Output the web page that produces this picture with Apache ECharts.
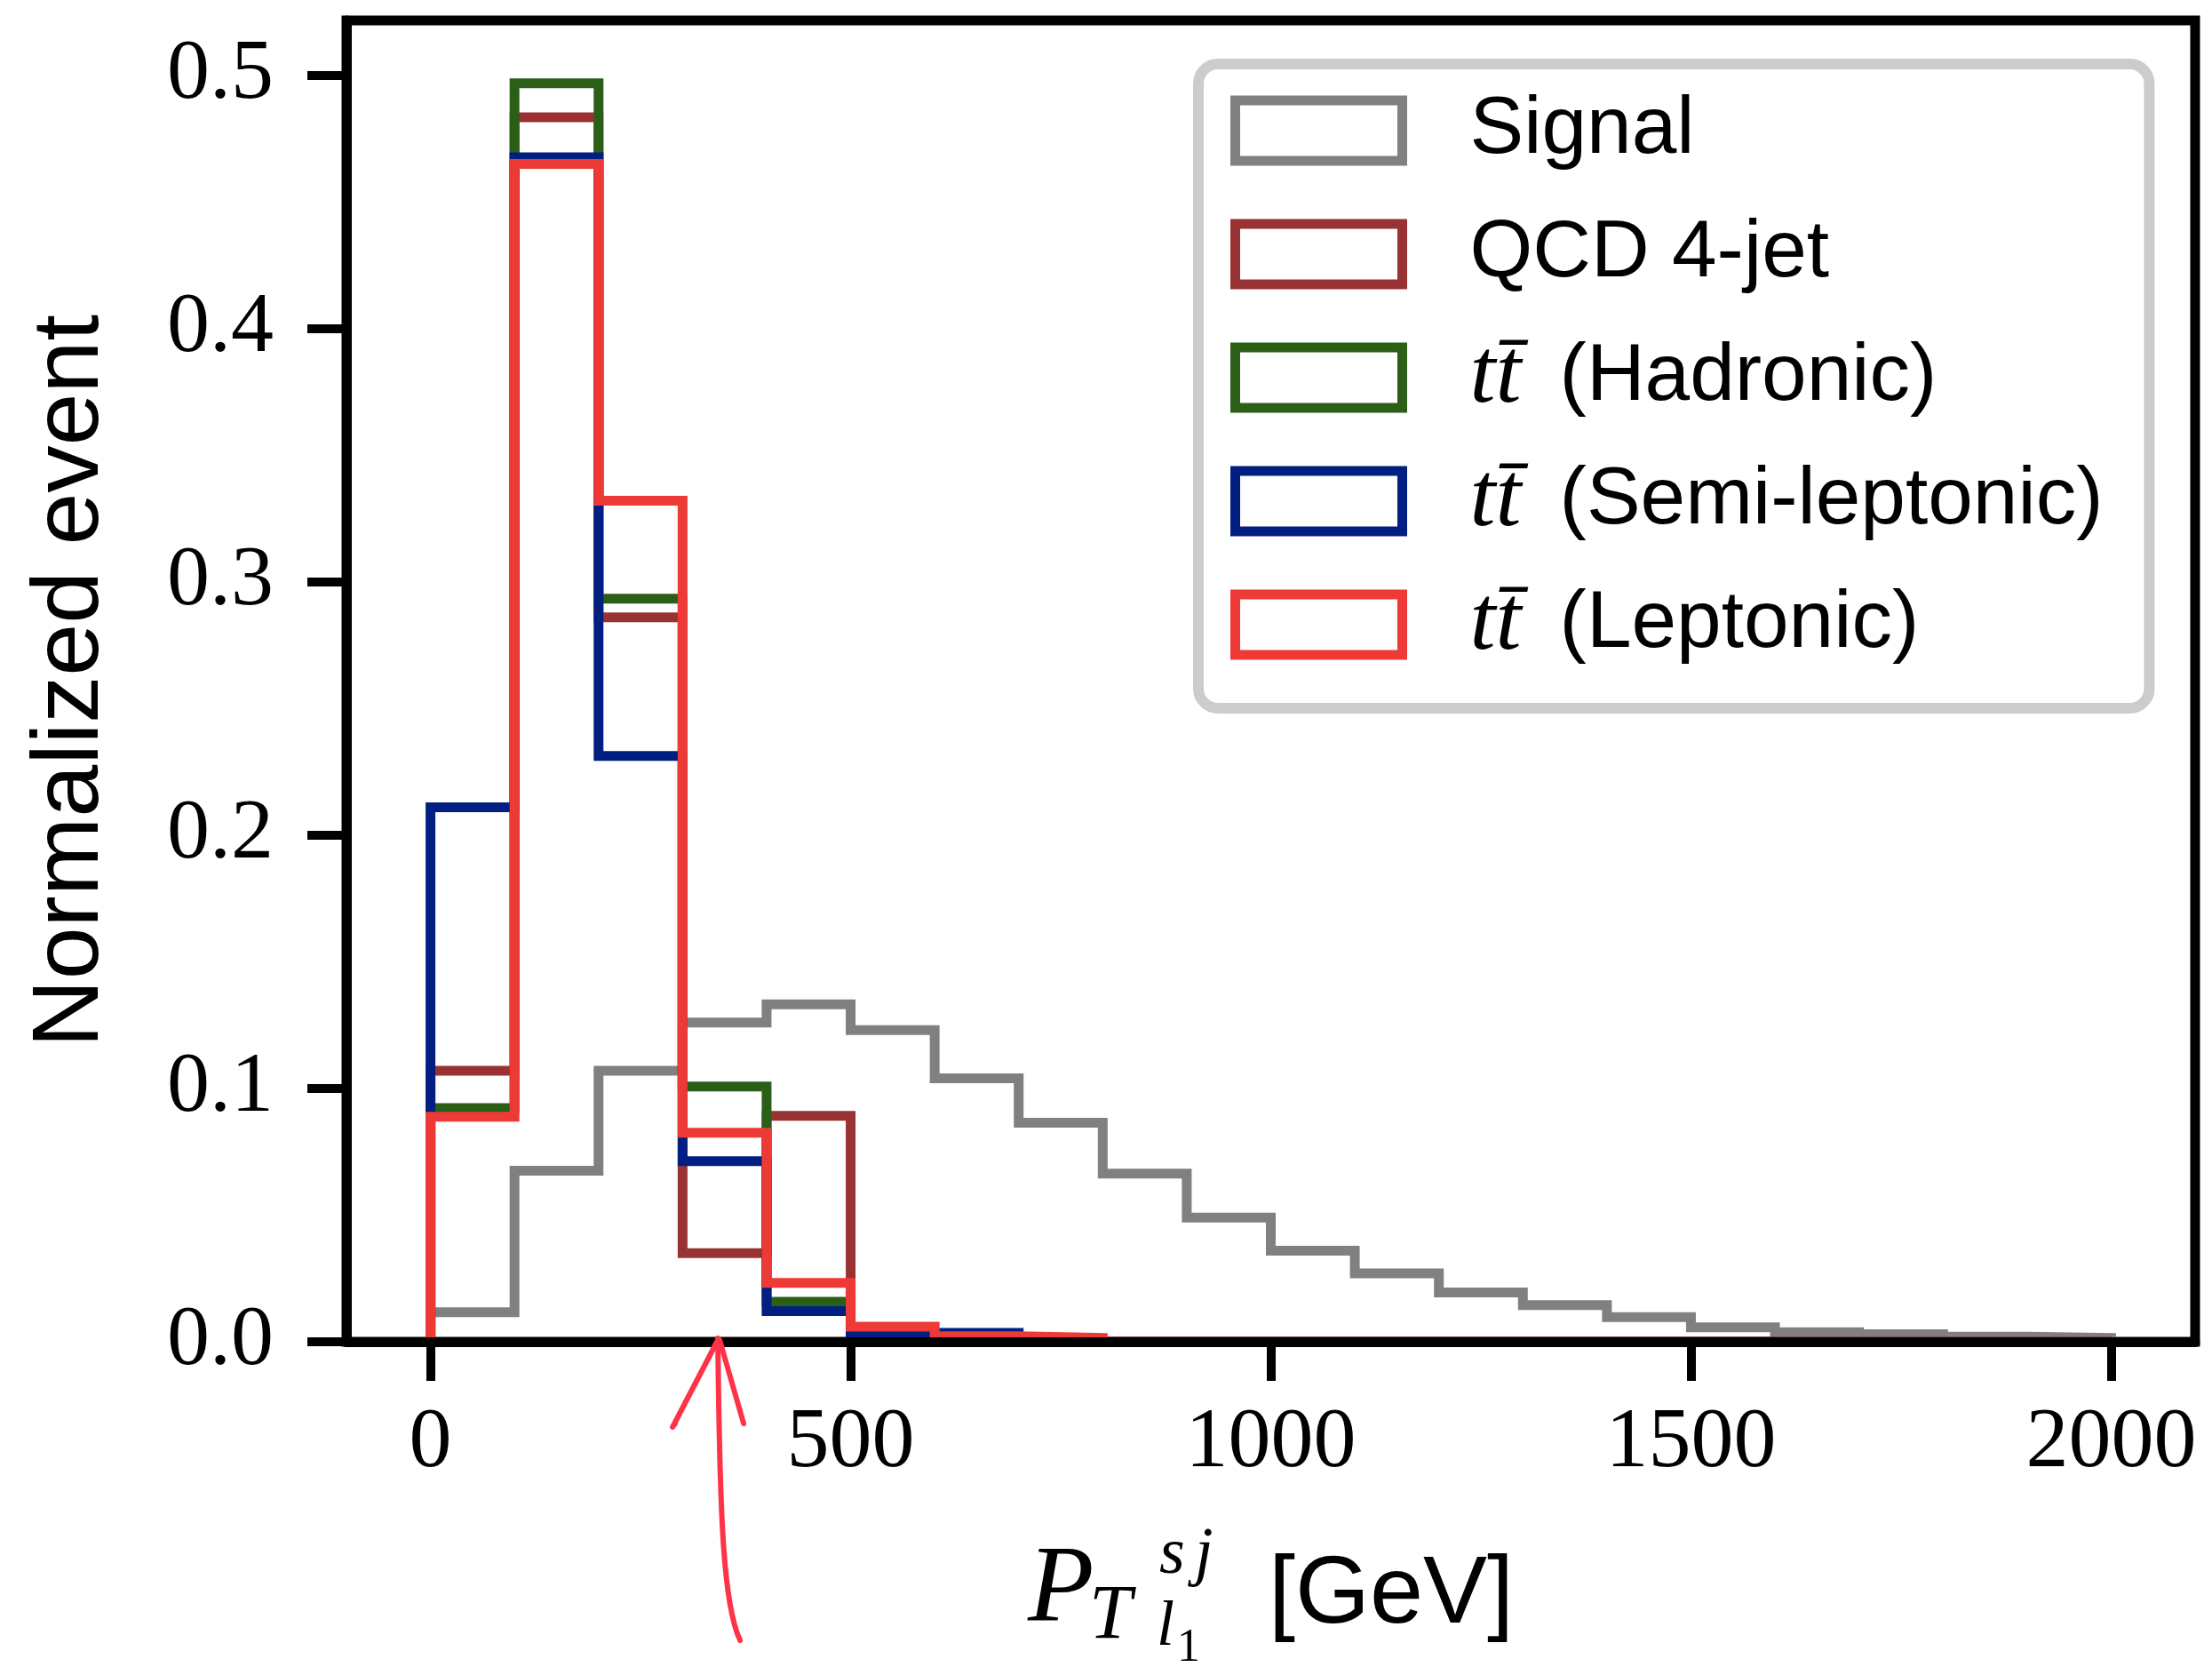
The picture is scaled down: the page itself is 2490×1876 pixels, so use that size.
<!DOCTYPE html>
<html>
<head>
<meta charset="utf-8">
<script src="https://cdn.jsdelivr.net/npm/echarts@6/dist/echarts.min.js"></script>
<style>
html,body{margin:0;padding:0;background:#fff;}
#chart{width:2490px;height:1876px;}
</style>
</head>
<body>
<div id="chart"></div>
<script>
// ---- data ----
const binEdges = [0,100,200,300,400,500,600,700,800,900,1000,1100,1200,1300,1400,1500,1600,1700,1800,1900,2000];
const signal     = [0.0117,0.0675,0.107,0.126,0.1332,0.123,0.104,0.0865,0.0664,0.049,0.036,0.027,0.0195,0.0145,0.0097,0.0057,0.0038,0.0030,0.0020,0.0015];
const qcd4jet    = [0.107,0.4834,0.286,0.035,0.0892,0,0,0,0,0,0,0,0,0,0,0,0,0,0,0];
const ttHadronic = [0.0923,0.4968,0.2934,0.1008,0.0158,0.0010,0,0,0,0,0,0,0,0,0,0,0,0,0,0];
const ttSemiLep  = [0.211,0.4676,0.2313,0.0713,0.0121,0.0027,0.0035,0,0,0,0,0,0,0,0,0,0,0,0,0];
const ttLeptonic = [0.0888,0.465,0.332,0.0825,0.0232,0.0060,0.0022,0.0015,0,0,0,0,0,0,0,0,0,0,0,0];
const seriesNames = ['Signal','QCD 4-jet','tt\u0304 (Hadronic)','tt\u0304 (Semi-leptonic)','tt\u0304 (Leptonic)'];
const xTicks = [0,500,1000,1500,2000];
const xTickLabels = ['0','500','1000','1500','2000'];
const yTicks = [0,0.1,0.2,0.3,0.4,0.5];
const yTickLabels = ['0.0','0.1','0.2','0.3','0.4','0.5'];
const arrowTarget = 342; // GeV, hand-drawn annotation arrow

// ---- styles ----
const colors = ['#808080','#993333','#2b5e17','#001f80','#ee3a36'];
const allValues = [signal,qcd4jet,ttHadronic,ttSemiLep,ttLeptonic];

function stepPoints(edges, vals){
  const pts = [[edges[0],0]];
  for(let i=0;i<vals.length;i++){
    pts.push([edges[i],vals[i]]);
    pts.push([edges[i+1],vals[i]]);
  }
  pts.push([edges[edges.length-1],0]);
  return pts;
}
const yMax = Math.max(...allValues.map(a=>Math.max(...a)))*1.05;

const chart = echarts.init(document.getElementById('chart'), null, {renderer:'canvas'});

const series = allValues.map((vals,i)=>({
  name: seriesNames[i],
  type:'line',
  data: stepPoints(binEdges, vals),
  showSymbol:false,
  symbol:'none',
  clip:false,
  z: 2+i,
  lineStyle:{color:colors[i], width:11, join:'miter', cap:'butt'},
  itemStyle:{color:colors[i]},
  emphasis:{disabled:true}
}));

const option = {
  animation:false,
  backgroundColor:'#ffffff',
  grid:{left:390, right:19, top:23, bottom:366, show:true, borderColor:'#000', borderWidth:11, backgroundColor:'rgba(0,0,0,0)'},
  legend:{
    orient:'vertical', left:1349, top:72,
    padding:[23,52,42,36],
    itemWidth:188, itemHeight:68, itemGap:35,
    icon:'rect',
    backgroundColor:'#ffffff', borderColor:'#cccccc', borderWidth:12, borderRadius:22,
    selectedMode:false,
    data: series.map((s,i)=>({name:s.name, itemStyle:{color:'rgba(255,255,255,0)', borderColor:colors[i], borderWidth:11}})),
    formatter: function(name){
      if(name.indexOf('tt')===0){
        return '{m|'+name.slice(0,3)+'}{s2|'+name.slice(3)+'}';
      }
      return '{m|\u200b}{s|'+name+'}';
    },
    textStyle:{
      color:'#000', fontFamily:'Liberation Sans', fontSize:91, lineHeight:68, padding:[0,0,0,71],
      rich:{
        m:{fontFamily:'Liberation Serif', fontStyle:'italic', fontSize:104, lineHeight:68, color:'#000'},
        s:{fontFamily:'Liberation Sans', fontSize:91, lineHeight:68, color:'#000'},
        s2:{fontFamily:'Liberation Sans', fontSize:91, lineHeight:68, color:'#000', padding:[0,0,0,18]}
      }
    }
  },
  xAxis:{
    type:'value', min:-100, max:2100, z:10,
    axisLine:{show:true, onZero:false, lineStyle:{color:'#000', width:11}},
    axisTick:{show:true, inside:false, length:44, customValues:xTicks, lineStyle:{color:'#000', width:10}},
    axisLabel:{customValues:xTicks, margin:67, color:'#000', fontFamily:'Liberation Serif', fontSize:96, lineHeight:96,
      formatter:function(v){const k=xTicks.indexOf(v);return k>=0?xTickLabels[k]:'';}},
    splitLine:{show:false}
  },
  yAxis:{
    type:'value', min:0, max:yMax, z:10,
    name:'Normalized event', nameLocation:'middle', nameGap:256,
    nameTextStyle:{color:'#000', fontFamily:'Liberation Sans', fontSize:106, lineHeight:106},
    axisLine:{show:true, onZero:false, lineStyle:{color:'#000', width:11}},
    axisTick:{show:true, inside:false, length:44, customValues:yTicks, lineStyle:{color:'#000', width:10}},
    axisLabel:{customValues:yTicks, margin:82, color:'#000', fontFamily:'Liberation Serif', fontSize:96,
      formatter:function(v){let k=-1;yTicks.forEach((t,j)=>{if(Math.abs(t-v)<1e-9)k=j;});return k>=0?yTickLabels[k]:'';}},
    splitLine:{show:false}
  },
  series: series
};
chart.setOption(option);

// x-axis title (stacked super/subscripts) and the hand-drawn arrow annotation
const serif = 'Liberation Serif';
const sans = 'Liberation Sans';
function txt(s, x, baseline, size, fam, italic){
  return {type:'text', x:x, y:baseline - 0.3375*size, z:50, silent:true,
    style:{text:s, x:0, y:0, fill:'#000', font:(italic?'italic ':'')+size+'px "'+fam+'"', align:'left', verticalAlign:'middle'}};
}
const apex = chart.convertToPixel({gridIndex:0}, [arrowTarget, 0]);
const ax = apex[0], ay = apex[1] - 4;
const arrowStyle = {stroke:'#ff3347', lineWidth:6, fill:null, lineCap:'round', lineJoin:'round'};
chart.setOption({
  graphic:[
    txt('P', 1157, 1833, 122, serif, true),
    txt('T', 1226, 1849, 86, serif, true),
    txt('s', 1305, 1776, 74, serif, true),
    txt('j', 1345, 1776, 74, serif, true),
    txt('l', 1302, 1856, 72, serif, true),
    txt('1', 1325, 1873, 52, serif, false),
    txt('[GeV]', 1428, 1833, 108, sans, false),
    {type:'bezierCurve', z:60, silent:true, shape:{x1:ax, y1:ay, cpx1:ax+2, cpy1:ay+200, cpx2:ax+6, cpy2:ay+300, x2:ax+25, y2:ay+340}, style:arrowStyle},
    {type:'polyline', z:60, silent:true, shape:{points:[[ax,ay+2],[ax-51,ay+100],[ax-48,ay+96]]}, style:arrowStyle},
    {type:'polyline', z:60, silent:true, shape:{points:[[ax+2,ay+2],[ax+29,ay+96]]}, style:arrowStyle}
  ]
});
</script>
</body>
</html>
